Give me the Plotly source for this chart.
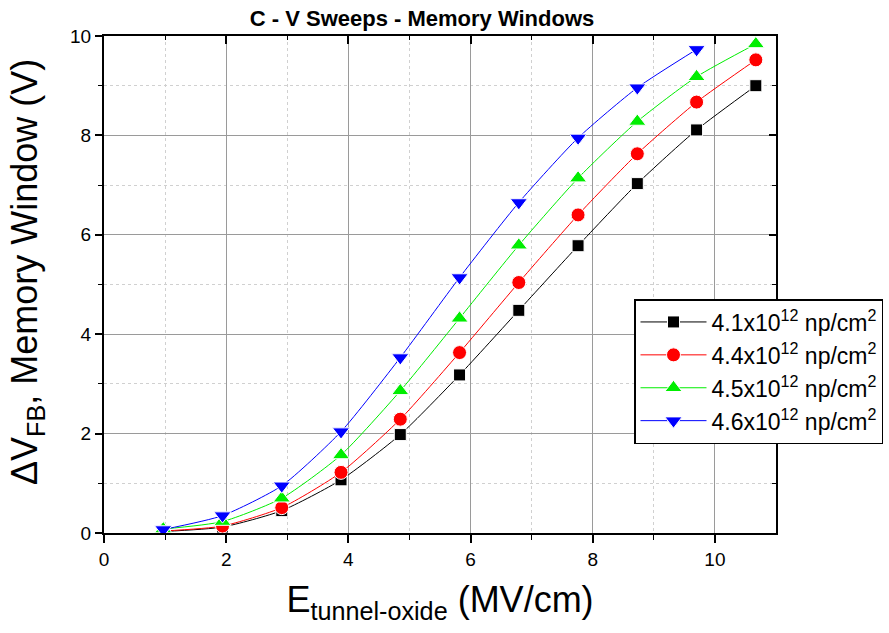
import plotly.graph_objects as go

# Tunnel-oxide field (MV/cm)
e_field = [0.97, 1.94, 2.91, 3.88, 4.85, 5.82, 6.79, 7.76, 8.73, 9.70, 10.67]

# Flat-band shift / memory window (V) for each charge density
mw_41 = [0.03, 0.12, 0.45, 1.07, 1.98, 3.18, 4.48, 5.78, 7.03, 8.11, 9.00]
mw_44 = [0.04, 0.14, 0.51, 1.22, 2.29, 3.63, 5.04, 6.40, 7.63, 8.67, 9.52]
mw_45 = [0.08, 0.23, 0.70, 1.57, 2.86, 4.32, 5.79, 7.14, 8.28, 9.18, 9.84]
mw_46 = [0.07, 0.35, 0.95, 2.04, 3.53, 5.14, 6.65, 7.95, 8.96, 9.73]

series = [
    ("4.1x10<sup>12</sup> np/cm<sup>2</sup>", mw_41, "#000000", "square", 12),
    ("4.4x10<sup>12</sup> np/cm<sup>2</sup>", mw_44, "#ff0000", "circle", 14),
    ("4.5x10<sup>12</sup> np/cm<sup>2</sup>", mw_45, "#00ee00", "triangle-up", 15),
    ("4.6x10<sup>12</sup> np/cm<sup>2</sup>", mw_46, "#0000ff", "triangle-down", 15),
]

FONT = "Arial, Liberation Sans, sans-serif"

# plot area in pixels
L, R, T, B = 104, 776, 36, 533
W, H = 889, 633

fig = go.Figure()
for i, (name, vals, color, symbol, size) in enumerate(series):
    fig.add_trace(go.Scatter(
        x=e_field[:len(vals)], y=vals, name=name, mode="lines+markers",
        legendgroup=f"g{i}",
        line=dict(color=color, width=1, shape="spline", smoothing=0.6),
        marker=dict(symbol=symbol, size=size, color=color,
                    line=dict(color="white", width=1)),
    ))

axis_common = dict(
    showline=True, linecolor="black", linewidth=2,
    showgrid=True, gridcolor="#9a9a9a", gridwidth=1,
    zeroline=False,
    tickfont=dict(family=FONT, size=19, color="black"),
)

fig.update_layout(
    width=W, height=H,
    margin=dict(l=L, r=W - R, t=T, b=H - B, autoexpand=False),
    paper_bgcolor="white", plot_bgcolor="white",
    title=dict(text="<b>C - V Sweeps - Memory Windows</b>",
               x=422 / W, xanchor="center",
               y=1 - 18 / H, yanchor="middle",
               font=dict(family=FONT, size=22, color="black")),
    xaxis=dict(
        range=[0, 11], tickvals=[0, 2, 4, 6, 8, 10],
        ticks="outside", ticklen=8, tickwidth=2, tickcolor="black",
        minor=dict(tickvals=[1, 3, 5, 7, 9], ticks="outside", ticklen=5,
                   tickwidth=1, tickcolor="black", showgrid=True,
                   gridcolor="#d0d0d0", griddash="dot", gridwidth=1),
        title=dict(text="E<sub>tunnel-oxide</sub> (MV/cm)",
                   font=dict(family=FONT, size=36, color="black"), standoff=18),
        **axis_common,
    ),
    yaxis=dict(
        range=[0, 10], tickvals=[0, 2, 4, 6, 8, 10],
        ticks="outside", ticklen=7, tickwidth=2, tickcolor="black",
        minor=dict(tickvals=[1, 3, 5, 7, 9], ticks="outside", ticklen=4,
                   tickwidth=1, tickcolor="black", showgrid=True,
                   gridcolor="#d0d0d0", griddash="dot", gridwidth=1),
        **axis_common,
    ),
    # mirrored frame with inward ticks on top and right
    xaxis2=dict(overlaying="x", side="top", range=[0, 11], matches="x",
                tickvals=[0, 2, 4, 6, 8, 10], ticks="inside", ticklen=8,
                tickwidth=2, tickcolor="black", showticklabels=False,
                minor=dict(tickvals=[1, 3, 5, 7, 9], ticks="inside", ticklen=4,
                           tickwidth=1, tickcolor="black"),
                showline=True, linecolor="black", linewidth=2,
                showgrid=False, zeroline=False),
    yaxis2=dict(overlaying="y", side="right", range=[0, 10], matches="y",
                tickvals=[0, 2, 4, 6, 8, 10], ticks="inside", ticklen=7,
                tickwidth=2, tickcolor="black", showticklabels=False,
                minor=dict(tickvals=[1, 3, 5, 7, 9], ticks="inside", ticklen=4,
                           tickwidth=1, tickcolor="black"),
                showline=True, linecolor="black", linewidth=2,
                showgrid=False, zeroline=False),
    legend=dict(
        x=(634 - L) / (R - L), y=(B - 299) / (B - T), xanchor="left", yanchor="top",
        bgcolor="white", bordercolor="black", borderwidth=1.5,
        font=dict(family=FONT, size=23, color="black"),
        itemwidth=66, tracegroupgap=0,
    ),
    showlegend=True,
)

# y-axis title placed as a rotated annotation
fig.add_annotation(
    text="\u0394V<sub>FB</sub>, Memory Window (V)",
    xref="paper", yref="paper",
    x=(27 - L) / (R - L), y=(B - 272) / (B - T),
    xanchor="center", yanchor="middle", textangle=-90, showarrow=False,
    font=dict(family=FONT, size=36, color="black"),
)

# invisible trace to anchor the mirrored axes
fig.add_trace(go.Scatter(x=[None], y=[None], xaxis="x2", yaxis="y2",
                         showlegend=False, hoverinfo="skip"))

fig.write_html("out.html")
